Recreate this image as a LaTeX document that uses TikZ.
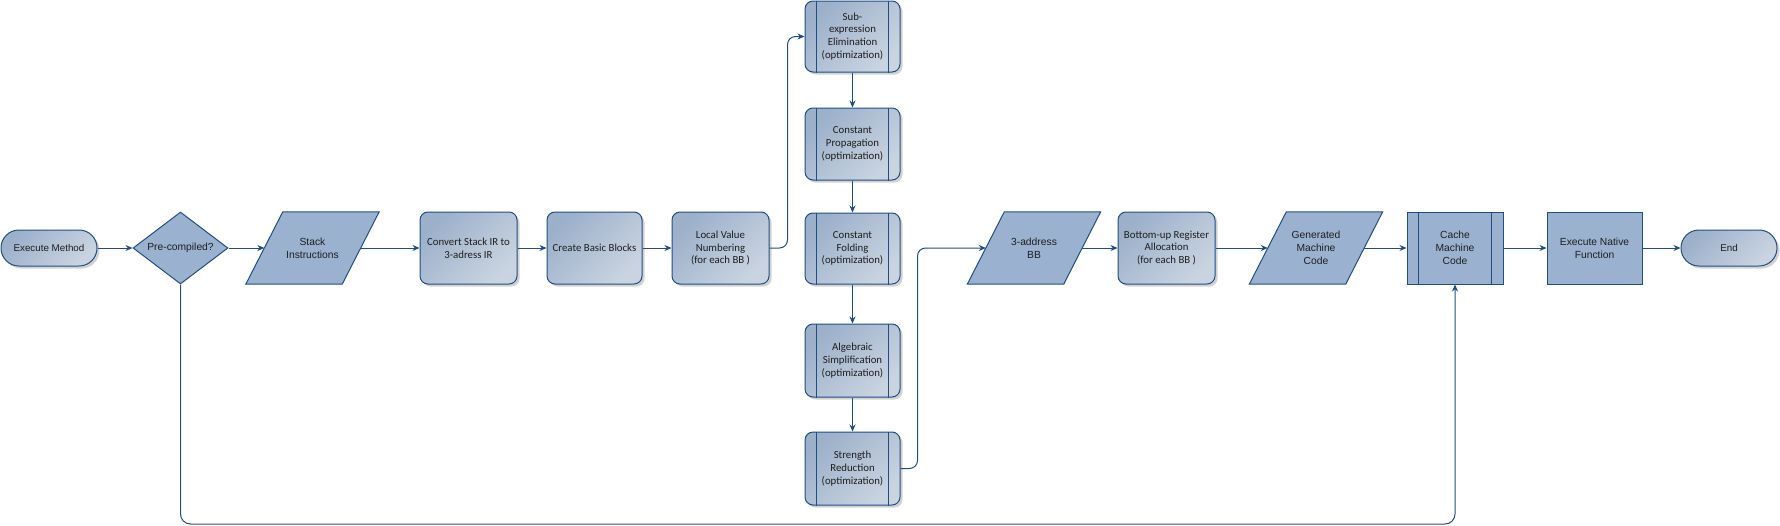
\documentclass[tikz,border=0pt]{standalone}
\usepackage{fontspec}
\setmainfont{Liberation Sans}
\newfontfamily\calfont{Carlito}
\usetikzlibrary{shapes.geometric,arrows.meta,shadows,backgrounds}
\definecolor{edgeblue}{HTML}{1F4E85}
\definecolor{flatfill}{HTML}{9AB2D0}
\definecolor{gradA}{HTML}{9CB0CA}
\definecolor{gradB}{HTML}{CAD4E1}
\definecolor{txt}{HTML}{1E1E1E}
\begin{document}
\begin{tikzpicture}[x=1pt,y=-1pt,
  base/.style={draw=edgeblue, line width=1pt, text=txt, align=center, inner sep=0pt},
  shadowed/.style={drop shadow={shadow xshift=2.5pt, shadow yshift=-2.5pt, fill=black!35, opacity=0.5}},
  grad/.style={top color=gradA, bottom color=gradB, shading angle=45},
  arialfont/.style={font=\fontsize{10.3}{13}\selectfont},
  calibrifont/.style={font=\calfont\fontsize{10.8}{12.8}\selectfont},
  procbox/.style={base, rectangle, rounded corners=8pt, minimum width=97pt, minimum height=72pt, grad, shadowed, calibrifont},
  prebox/.style={procbox, minimum width=95pt},
  pill/.style={base, rectangle, rounded corners=17.9pt, minimum width=96pt, minimum height=36pt, grad, shadowed, font=\fontsize{9.8}{12}\selectfont},
  flatbox/.style={base, rectangle, fill=flatfill, minimum width=96pt, minimum height=72pt, arialfont},
  decision/.style={base, diamond, fill=flatfill, minimum width=95pt, minimum height=72pt, aspect=1.32, arialfont},
  iobox/.style={inner sep=0pt, minimum width=96pt, minimum height=72pt, text=txt, align=center, arialfont},
  paraline/.style={draw=edgeblue, line width=1pt, fill=flatfill},
  innerline/.style={draw=edgeblue, line width=1pt},
  conn/.style={draw=edgeblue, line width=1pt, -{Stealth[length=7pt,width=6pt]}}
]
\useasboundingbox (0,0) rectangle (1780,525);

\node[pill] (exec) at (49,248) {Execute Method};
\node[decision] (dec) at (180.5,248) {Pre-compiled?};
\node[iobox] (stack) at (312.5,248) {Stack\\Instructions};
\node[procbox] (conv) at (468.5,248) {Convert Stack IR to\\3-adress IR};
\node[procbox, minimum width=95pt] (cbb) at (594.5,248) {Create Basic Blocks};
\node[procbox] (lvn) at (720.5,248) {Local Value\\Numbering\\(for each BB )};
\node[prebox, minimum height=71pt] (sub) at (852.5,36.5) {Sub-\\expression\\Elimination\\(optimization)};
\node[prebox] (cp) at (852.5,144) {Constant\\Propagation\\(optimization)};
\node[prebox, minimum height=71pt] (cf) at (852.5,248.5) {Constant\\Folding\\(optimization)};
\node[prebox, minimum height=73pt] (as) at (852.5,360.5) {Algebraic\\Simplification\\(optimization)};
\node[prebox, minimum height=73pt] (sr) at (852.5,468.5) {Strength\\Reduction\\(optimization)};
\node[iobox] (tac) at (1034,248) {3-address\\BB};
\node[procbox] (bra) at (1166.5,248) {Bottom-up Register\\Allocation\\(for each BB )};
\node[iobox] (gen) at (1316,248) {Generated\\Machine\\Code};
\node[flatbox] (cache) at (1455,248) {Cache\\Machine\\Code};
\node[flatbox, minimum width=95pt] (enf) at (1594.5,248) {Execute Native\\Function};
\node[pill] (fin) at (1729,248) {End};

\begin{scope}[on background layer]
  \foreach \n in {stack,tac,gen}{
    \path[paraline] ([xshift=-18.5pt]\n.south west) -- ([xshift=18.5pt]\n.north west)
      -- ([xshift=18.5pt]\n.north east) -- ([xshift=-18.5pt]\n.south east) -- cycle;
  }
\end{scope}

\foreach \n in {sub,cp,cf,as,sr,cache}{
  \path[innerline] ([xshift=12pt]\n.north west) -- ([xshift=12pt]\n.south west);
  \path[innerline] ([xshift=-12pt]\n.north east) -- ([xshift=-12pt]\n.south east);
}

\draw[conn] (exec) -- (dec);
\draw[conn] (dec) -- (stack);
\draw[conn] (stack) -- (conv);
\draw[conn] (conv) -- (cbb);
\draw[conn] (cbb) -- (lvn);
\draw[conn, rounded corners=8pt] (lvn.east) -- ++(18,0) |- (sub.west);
\draw[conn] (sub) -- (cp);
\draw[conn] (cp) -- (cf);
\draw[conn] (cf) -- (as);
\draw[conn] (as) -- (sr);
\draw[conn, rounded corners=8pt] (sr.east) -- ++(17,0) |- (tac.west);
\draw[conn] (tac) -- (bra);
\draw[conn] (bra) -- (gen);
\draw[conn] (gen) -- (cache);
\draw[conn] (cache) -- (enf);
\draw[conn] (enf) -- (fin);
\draw[conn, rounded corners=10pt] (dec.south) -- ++(0,239.5) -| (cache.south);
\end{tikzpicture}
\end{document}
